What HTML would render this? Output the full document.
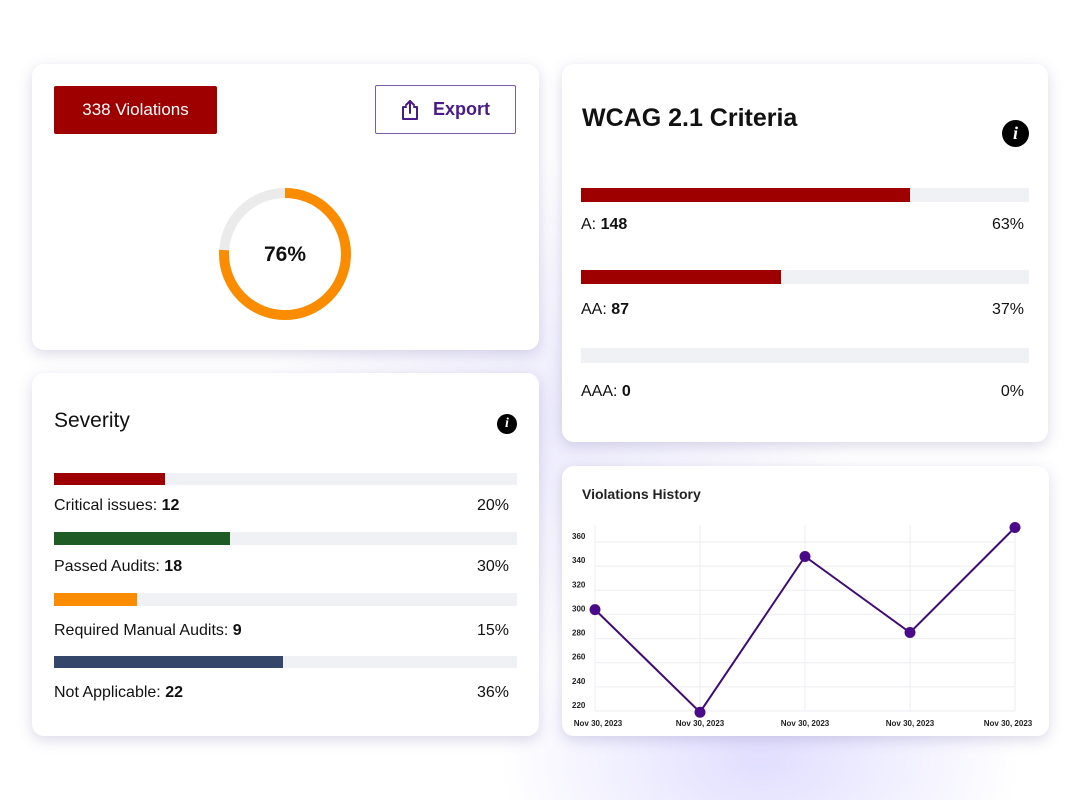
<!DOCTYPE html>
<html><head><meta charset="utf-8">
<style>
*{box-sizing:border-box;margin:0;padding:0}
body{width:1080px;height:800px;position:relative;overflow:hidden;font-family:"Liberation Sans",sans-serif;color:#111;
background:radial-gradient(ellipse 260px 160px at 760px 760px,rgba(200,195,255,0.55),rgba(255,255,255,0) 100%),radial-gradient(ellipse 300px 260px at 560px 420px,rgba(225,222,250,0.6),rgba(255,255,255,0) 100%),#fff}
.card{position:absolute;background:#fff;border-radius:12px;box-shadow:0 4px 14px rgba(90,80,150,0.22)}
.abs{position:absolute}
.track{position:absolute;background:#f0f1f5}
.fill{position:absolute;left:0;top:0;height:100%}
.lbl{position:absolute;font-size:16px;white-space:nowrap}
.pct{position:absolute;font-size:16px;text-align:right;white-space:nowrap}
.info{position:absolute;width:20px;height:20px;border-radius:50%;background:#000;color:#fff;font:italic bold 14px "Liberation Serif",serif;text-align:center;line-height:20px}
</style></head><body>

<div class="card" style="left:32px;top:64px;width:507px;height:286px">
  <div class="abs" style="left:22px;top:22px;width:163px;height:48px;background:#9e0000;border-radius:2px;color:#fff;font-size:17px;line-height:48px;text-align:center">338 Violations</div>
  <div class="abs" style="left:343px;top:21px;width:141px;height:49px;border:1.5px solid #7a5ca8;border-radius:2px;color:#4a1a86;font-size:18px;font-weight:bold;line-height:46px">
    <svg class="abs" style="left:22px;top:12px" width="24" height="24" viewBox="0 0 24 24" fill="none" stroke="#4a1a86" stroke-width="2" stroke-linecap="round" stroke-linejoin="round"><path d="M8 9H5v12h14V9h-3"/><path d="M12 15V3"/><path d="M8 7l4-4 4 4"/></svg>
    <span class="abs" style="left:57px;top:0">Export</span>
  </div>
  <svg class="abs" style="left:183px;top:118px" width="140" height="140" viewBox="0 0 140 140">
    <circle cx="70" cy="72" r="61" fill="none" stroke="#ebebeb" stroke-width="10"/>
    <circle id="donutArc" cx="70" cy="72" r="61" fill="none" stroke="#fb8c00" stroke-width="10" transform="rotate(-90 70 72)"/>
    <text x="70" y="79" text-anchor="middle" font-family="Liberation Sans" font-weight="bold" font-size="21" fill="#111">76%</text>
  </svg>
</div>

<div class="card" style="left:32px;top:373px;width:507px;height:363px">
  <div class="abs" style="left:22px;top:36px;font-size:21px">Severity</div>
  <div class="info" style="left:465px;top:41px">i</div>
  <div id="sev"></div>
</div>

<div class="card" style="left:562px;top:64px;width:486px;height:378px">
  <div class="abs" style="left:20px;top:40px;font-size:25px;font-weight:bold">WCAG 2.1 Criteria</div>
  <div class="info" style="left:440px;top:56px;width:27px;height:27px;line-height:27px;font-size:18px">i</div>
  <div id="wcag"></div>
</div>

<div class="card" style="left:562px;top:466px;width:487px;height:270px">
  <div class="abs" style="left:20px;top:20px;font-size:14px;font-weight:bold;color:#222">Violations History</div>
</div>
<svg id="chart" class="abs" style="left:0;top:0" width="1080" height="800"></svg>

<script>
// donut
const donutPercent = 76;
const arc = document.getElementById('donutArc');
const circ = 2*Math.PI*61;
arc.setAttribute('stroke-dasharray', (circ*donutPercent/100)+' '+circ);

// severity
const sevLabels = ["Critical issues: ","Passed Audits: ","Required Manual Audits: ","Not Applicable: "];
const sevCounts = ["12","18","9","22"];
const sevPercents = ["20%","30%","15%","36%"];
const sevFill = [0.24,0.38,0.18,0.495];
const sevColors = ["#9e0000","#1f5b25","#fb8c00","#34476a"];
const sevBarTop = [100,159,220,283];
const sevBarH = [12,13,13,12];
const sevLabelOff = [24,26,29,28];
const sev = document.getElementById('sev');
sevLabels.forEach((l,i)=>{
  const t=document.createElement('div');t.className='track';
  
  
  t.style.cssText=`left:22px;top:${sevBarTop[i]}px;width:463px;height:${sevBarH[i]}px`;
  const f=document.createElement('div');f.className='fill';
  
  
  f.style.width=(sevFill[i]*100)+'%';f.style.background=sevColors[i];t.appendChild(f);sev.appendChild(t);
  const lb=document.createElement('div');lb.className='lbl';
  
  
  lb.style.cssText=`left:22px;top:${sevBarTop[i]+sevLabelOff[i]}px`;lb.innerHTML=l+'<b>'+sevCounts[i]+'</b>';sev.appendChild(lb);
  const p=document.createElement('div');p.className='pct';
  
  
  p.style.cssText=`right:30px;top:${sevBarTop[i]+sevLabelOff[i]}px`;p.textContent=sevPercents[i];sev.appendChild(p);
});

// wcag
const wLabels=["A: ","AA: ","AAA: "];
const wCounts=["148","87","0"];
const wPercents=["63%","37%","0%"];
const wFill=[0.735,0.447,0];
const wTop=[124,206,284];
const wH=[14,14,15];
const wLabelOff=[28,31,35];
const wc=document.getElementById('wcag');
wLabels.forEach((l,i)=>{
  const t=document.createElement('div');t.className='track';
  
  
  t.style.cssText=`left:19px;top:${wTop[i]}px;width:448px;height:${wH[i]}px`;
  const f=document.createElement('div');f.className='fill';
  
  
  f.style.width=(wFill[i]*100)+'%';f.style.background='#9e0000';t.appendChild(f);wc.appendChild(t);
  const lb=document.createElement('div');lb.className='lbl';
  
  
  lb.style.cssText=`left:19px;top:${wTop[i]+wLabelOff[i]}px`;lb.innerHTML=l+'<b>'+wCounts[i]+'</b>';wc.appendChild(lb);
  const p=document.createElement('div');p.className='pct';
  
  
  p.style.cssText=`right:24px;top:${wTop[i]+wLabelOff[i]}px`;p.textContent=wPercents[i];wc.appendChild(p);
});

// line chart
const xLabels=["Nov 30, 2023","Nov 30, 2023","Nov 30, 2023","Nov 30, 2023","Nov 30, 2023"];
const historyValues=[304,219,348,285,372];
const yTicks=[220,240,260,280,300,320,340,360];
const NS='http://www.w3.org/2000/svg';
const svg=document.getElementById('chart');
const x0=595,x1=1015,yMin=220,yMax=360,py0=711,py1=542;
const xs=i=>x0+(x1-x0)*i/(xLabels.length-1);
const ys=v=>py0-(v-yMin)*(py0-py1)/(yMax-yMin);
function mk(tag,attrs){const e=document.createElementNS(NS,tag);for(const k in attrs)e.setAttribute(k,attrs[k]);svg.appendChild(e);return e;}
yTicks.forEach(v=>{
  const g=mk('line',{x1:x0,x2:x1,y1:ys(v),y2:ys(v),stroke:'#eeeef2','stroke-width':1});
  
  
  const t=mk('text',{x:572,y:ys(v)-3,'font-size':8,'font-weight':'bold','font-family':'Liberation Sans',fill:'#222'});
  
  
  t.textContent=v;
});
xLabels.forEach((l,i)=>{
  const g=mk('line',{x1:xs(i),x2:xs(i),y1:525,y2:711,stroke:'#eeeef2','stroke-width':1});
  
  
  const cx=Math.min(1008,Math.max(598,xs(i)));
  const t=mk('text',{x:cx,y:726,'text-anchor':'middle','font-size':8,'font-weight':'bold','font-family':'Liberation Sans',fill:'#222'});
  
  
  t.textContent=l;
});
const pts=historyValues.map((v,i)=>xs(i)+','+ys(v)).join(' ');
const pl=mk('polyline',{points:pts,fill:'none',stroke:'#3f0a78','stroke-width':2});


historyValues.forEach((v,i)=>{
  const c=mk('circle',{cx:xs(i),cy:ys(v),r:5.5,fill:'#4a0b8a'});
  
  
});
</script>
</body></html>
